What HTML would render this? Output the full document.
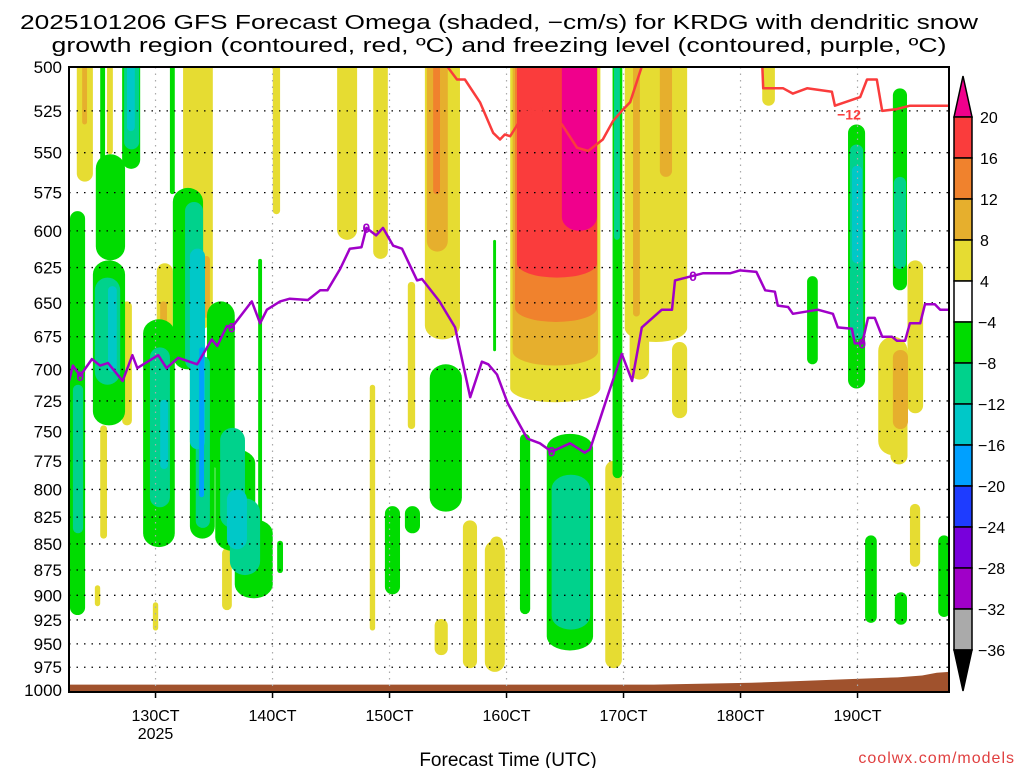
<!DOCTYPE html>
<html><head><meta charset="utf-8"><style>
html,body{margin:0;padding:0;background:#fff;}
svg{display:block;font-family:"Liberation Sans",sans-serif;}
</style></head><body>
<svg id="chart" width="1024" height="768" viewBox="0 0 1024 768" xmlns="http://www.w3.org/2000/svg">
<text x="499" y="29" font-size="20" text-anchor="middle" textLength="958" lengthAdjust="spacingAndGlyphs">2025101206 GFS Forecast Omega (shaded, −cm/s) for KRDG with dendritic snow</text>
<text x="499" y="52" font-size="20" text-anchor="middle" textLength="895" lengthAdjust="spacingAndGlyphs">growth region (contoured, red, ºC) and freezing level (contoured, purple, ºC)</text>
<defs><clipPath id="plotclip"><rect x="69" y="67" width="880" height="625"/></clipPath></defs>
<g id="shading" clip-path="url(#plotclip)"></g>
<g id="grid"></g>
<g id="lines" clip-path="url(#plotclip)"></g>
<rect x="69" y="67" width="880" height="625" fill="none" stroke="#000" stroke-width="2"/>
<g id="yaxis"></g>
<g id="xaxis"></g>
<text x="508" y="766" font-size="19" text-anchor="middle">Forecast Time (UTC)</text>
<text x="1015" y="763" font-size="16" text-anchor="end" fill="#e04040" letter-spacing="1">coolwx.com/models</text>
<g id="cbar"></g>
</svg>
<script>
// ---- data ----
const pressureTicks = [500,525,550,575,600,625,650,675,700,725,750,775,800,825,850,875,900,925,950,975,1000];
const dayTickHours = [17.75,41.75,65.75,89.75,113.75,137.75,161.75];
const dayTickLabels = ["130CT","140CT","150CT","160CT","170CT","180CT","190CT"];
const cbarLevels = [20,16,12,8,4,-4,-8,-12,-16,-20,-24,-28,-32,-36];
const cbarColors = ["#f0008c","#fa3c3c","#f0822d","#e6af2d","#e6dc32","#ffffff","#00dc00","#00d28c","#00c8c8","#00a0ff","#1e3cff","#7800dc","#a000c8","#aaaaaa","#000000"];
// shaded omega cells: hour start, hour end, top pressure, bottom pressure, level
const blobH0 = [1.6,7.8,18,23.4,10.9,6.4,31.4,5.3,17.2,55,62.4,61.7,69.5,41.8,73,80.8,85.3,75,90.5,114,123.7,115,110,86.4,142.2,166,172,168.5,172.5,
 2.7,27.5,18.7,73.4,91,121.2,115.7,169,
 74.7,91.5,91.9,101.1,
 0.2,5.5,4.9,10.9,15.2,21.3,24.8,28.3,30,34,42.7,38.8,20.7,6.4,74,64.8,68.9,87,92.5,98,111.5,151.4,159.8,169,163.3,169.4,178.3,
 0.8,5.3,11.3,16.6,23.8,26,31,33,99,111.8,160.2,169.2,
 8,11.9,24.8,32.4,160.6,18.7,
 26.7];
const blobH1 = [4.9,9,21.3,29.5,12.9,7.8,33.4,6.4,18.3,59.1,65.4,62.8,71,43.3,80.2,83.7,89.4,77.7,109,126.8,126.8,119,113.4,89,144.8,172,175.2,172,174.6,
 3.7,28.9,20.1,77.7,108.5,123.7,117.1,172.1,
 76.1,108.3,108.3,108.3,
 3.3,11.5,11.5,14.6,21.7,27.5,29.9,34,38.2,41.8,43.9,39.6,21.7,7.4,80.6,67.9,72,87.6,94.6,107.5,113.5,153.6,163.3,171.9,165.7,171.9,180.7,
 2.9,10.5,14.4,20.7,27.5,28.9,36.1,39.2,106.9,113,162.9,171.7,
 9.8,13.5,27.9,36.5,162.7,20.3,
 27.7];
const blobPTop = [480,480,622,480,649,745,854,890,907,480,480,712,635,480,480,828,847,924,480,480,679,480,775,843,480,675,620,700,813,
 480,617,649,480,480,480,480,685,
 480,480,480,480,
 587,551,620,480,662,572,690,649,765,827,847,619,480,480,696,815,815,606,752,752,480,631,533,512,842,897,842,
 712,632,480,683,581,690,747,808,787,480,545,565,
 638,480,612,800,558,724,
 683];
const blobPBot = [568,551,732,670,745,845,915,911,936,606,619,936,748,589,677,976,980,962,726,679,739,708,976,954,522,770,735,778,872,
 533,661,700,614,697,565,660,748,
 576,664,632,600,
 920,620,745,560,853,700,845,782,857,903,878,895,576,592,820,899,840,686,919,957,790,696,715,641,928,930,922,
 840,712,548,816,700,835,835,880,935,606,677,626,
 702,537,765,855,622,782,
 807];
const blobLevel = [4,4,4,4,4,4,4,4,4,4,4,4,4,4,4,4,4,4,4,4,4,4,4,4,4,4,4,4,4,
 8,8,8,8,8,8,8,8,
 12,12,16,20,
 -4,-4,-4,-4,-4,-4,-4,-4,-4,-4,-4,-4,-4,-4,-4,-4,-4,-4,-4,-4,-4,-4,-4,-4,-4,-4,-4,
 -8,-8,-8,-8,-8,-8,-8,-8,-8,-8,-8,-8,
 -12,-12,-12,-12,-12,-12,
 -16];
// freezing level (0C) contour
const frzHours = [0,0.8,2.3,4.7,6.4,8,11,13,14,18.3,20,22.4,26.3,29.3,30.4,32.4,33.4,37.5,39.2,40.6,43.3,45.3,49,51.5,53,55.6,57.6,60,61,63,64.4,66.5,68.3,71.4,72.4,76,79.2,82.3,84.7,86,87.8,90,94,96.6,99,102.8,105.8,106.9,110.4,113.4,115.5,117.5,121.6,123.7,124.3,130,135.6,137.6,141,142.8,144.8,145.4,147.5,148.5,153.6,156.7,157.7,160.6,161.2,162.7,163.9,165.3,166.8,168.8,169.8,171.5,172.5,174.6,175.6,177.6,178.7,180.7];
const frzPres = [709,697,705,692,697,695,709,689,699,689,699,691,696,677,682,667,668,649,665,655,649,647,648,641,641,626,612,611,598,603,598,610,612,634,633,649,668,722,694,696,704,727,756,760,767,760,768,765,722,688,709,668,655,655,634,629,629,627,628,641,642,652,653,658,655,658,668,669,680,680,661,661,675,675,678,678,665,665,651,651,655,655];
const frzLabelHours = [2.3,33.4,61,99,128,162.7];
// -12C DGZ contour (two segments)
const dgzHoursA = [77.1,79.6,81.2,84.3,87,88.4,89.4,90.5,93.1,94.6,97.6,101.1,104.2,106.5,109.5,111.6,113.4,115.1,117.7];
const dgzPresA = [498,507,507,520,538,542,539,540,528,525,526,533,547,549,542,531,525,520,498];
const dgzHoursB = [142.2,142.4,146.5,148.5,151.4,156.5,157.1,162.3,163.7,165.7,166.8,169.8,172.5,180.7];
const dgzPresB = [498,512,512,515,512,514,522,517,507,507,525,524,522,522];
// surface (ground)
const sfcHours = [0,60,120,140,150,160,170,175,178,180.7];
const sfcPres = [994,994,994,992,990,988,986,984,981,980];

// ---- axis functions ----
const X0=69, X1=949, Y0=67, Y1=692;
function xOf(h){return X0 + h*4.875;}
function yOf(p){return Y0 + Math.log(p/500)/Math.LN2*623;}
function colorOf(l){ if(l>=20) return cbarColors[0]; const i=cbarLevels.indexOf(l); return l>0?cbarColors[i]:cbarColors[i+1]; }
const NS="http://www.w3.org/2000/svg";
function mk(tag,attrs,parent){const e=document.createElementNS(NS,tag);for(const k in attrs)e.setAttribute(k,attrs[k]);parent.appendChild(e);return e;}

// shading
const gS=document.getElementById('shading');
const order=[4,8,12,16,20,-4,-8,-12,-16];
order.forEach(function(lv){
  for(let i=0;i<blobLevel.length;i++){
    if(blobLevel[i]!==lv) continue;
    const x=xOf(blobH0[i]), w=xOf(blobH1[i])-x, y=yOf(blobPTop[i]), hgt=yOf(blobPBot[i])-y;
    const r=mk('rect',{x:x,y:y,width:w,height:hgt,rx:w/2,ry:Math.min(w/2,hgt/2,14),fill:colorOf(lv)},gS);
    
    
  }
});
// ground
let gp='M'+xOf(sfcHours[0])+','+Y1;
for(let i=0;i<sfcHours.length;i++) gp+=' L'+xOf(sfcHours[i])+','+yOf(sfcPres[i]);
gp+=' L'+X1+','+Y1+' Z';
const ground=mk('path',{d:gp,fill:'#a0522d'},gS);



// grid
const gG=document.getElementById('grid');
pressureTicks.forEach(function(p){
  if(p===500||p===1000) return;
  const l=mk('line',{x1:X0,x2:X1,y1:yOf(p),y2:yOf(p),stroke:'#000','stroke-width':1.3,'stroke-dasharray':'1.5 6'},gG);
  
  
});
dayTickHours.forEach(function(h){
  const l=mk('line',{x1:xOf(h),x2:xOf(h),y1:Y0,y2:Y1,stroke:'#aaa','stroke-width':1.2,'stroke-dasharray':'1.5 5'},gG);
  
  
});

// lines
const gL=document.getElementById('lines');
function poly(hs,ps,col,name){
  let d='';
  for(let i=0;i<hs.length;i++) d+=(i?' L':'M')+xOf(hs[i]).toFixed(1)+','+yOf(ps[i]).toFixed(1);
  const e=mk('path',{d:d,fill:'none',stroke:col,'stroke-width':2.5,'stroke-linejoin':'round'},gL);
  
  
}
poly(dgzHoursA,dgzPresA,'#fa3c3c','dgz-contour-a');
poly(dgzHoursB,dgzPresB,'#fa3c3c','dgz-contour-b');
poly(frzHours,frzPres,'#a000c8','freezing-level-line');
function interp(hs,ps,h){for(let i=1;i<hs.length;i++){if(hs[i]>=h){const t=(h-hs[i-1])/(hs[i]-hs[i-1]);return ps[i-1]+t*(ps[i]-ps[i-1]);}}return ps[ps.length-1];}
frzLabelHours.forEach(function(h){
  const y=yOf(interp(frzHours,frzPres,h));
  const t=mk('text',{x:xOf(h),y:y+5,'font-size':14,'font-weight':'bold','text-anchor':'middle',fill:'#a000c8'},gL);
  t.textContent='0';
  
  
});
[[95,525],[160,527]].forEach(function(a){
  const t=mk('text',{x:xOf(a[0]),y:yOf(a[1])+5,'font-size':14,'font-weight':'bold','text-anchor':'middle',fill:'#fa3c3c'},gL);
  t.textContent='−12';
  
  
});

// y axis
const gY=document.getElementById('yaxis');
pressureTicks.forEach(function(p){
  const t=mk('text',{x:62,y:yOf(p)+6,'font-size':17,'text-anchor':'end'},gY);
  t.textContent=p;
  
  
});
// x axis
const gX=document.getElementById('xaxis');
dayTickHours.forEach(function(h,i){
  const tk=mk('line',{x1:xOf(h),x2:xOf(h),y1:Y1,y2:Y1+6,stroke:'#000','stroke-width':1.5},gX);
  
  
  const t=mk('text',{x:xOf(h),y:721,'font-size':16,'text-anchor':'middle'},gX);
  t.textContent=dayTickLabels[i];
  
  
});
const yr=mk('text',{x:xOf(dayTickHours[0]),y:739,'font-size':16,'text-anchor':'middle'},gX);
yr.textContent='2025';



// colorbar
const gC=document.getElementById('cbar');
const cx=954, cw=18, cTop=117, step=41;
const topTri=mk('path',{d:'M'+cx+','+cTop+' L'+(cx+cw/2)+',76 L'+(cx+cw)+','+cTop+' Z',fill:cbarColors[0],stroke:'#000','stroke-width':1.5},gC);


for(let i=0;i<13;i++){
  const r=mk('rect',{x:cx,y:cTop+i*step,width:cw,height:step,fill:cbarColors[i+1],stroke:'#000','stroke-width':1.5},gC);
  
  
}
const bot=cTop+13*step;
const botTri=mk('path',{d:'M'+cx+','+bot+' L'+(cx+cw/2)+','+(bot+41)+' L'+(cx+cw)+','+bot+' Z',fill:'#000',stroke:'#000','stroke-width':1.5},gC);


cbarLevels.forEach(function(l,i){
  const t=mk('text',{x:l<0?978:980,y:cTop+i*step+6,'font-size':16},gC);
  t.textContent=l<0?('−'+Math.abs(l)):String(l);
  
  
});
</script>
</body></html>
